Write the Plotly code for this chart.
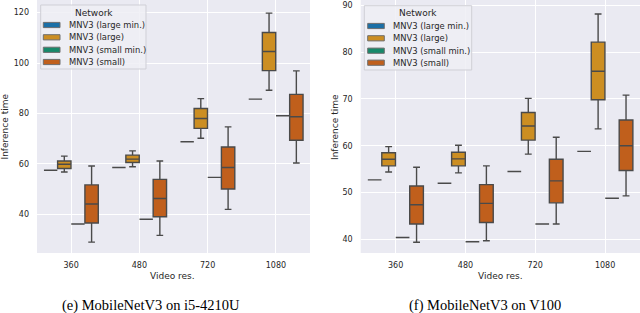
import plotly.graph_objects as go

categories = ["360", "480", "720", "1080"]
series_names = ["MNV3 (large min.)", "MNV3 (large)", "MNV3 (small min.)", "MNV3 (small)"]
colors = ["#1b6fa6", "#cc8e22", "#17896a", "#c05f1c"]

# i5-4210U : per category [lower whisker, q1, median, q3, upper whisker]
i5_large_min = [57.5, 58.6, 68.8, 85.7]
i5_large = [[56.8, 58.2, 59.9, 61.2, 63.1],
            [58.9, 60.6, 61.9, 63.5, 65.2],
            [70.2, 74.1, 78.0, 82.0, 85.9],
            [89.2, 97.0, 104.6, 112.1, 119.8]]
i5_small_min = [36.2, 38.1, 54.7, 79.1]
i5_small = [[29.0, 36.6, 44.1, 51.7, 59.2],
            [31.7, 39.1, 46.3, 53.9, 61.2],
            [42.0, 50.1, 58.6, 66.7, 74.7],
            [60.4, 69.4, 78.7, 87.6, 96.9]]

# V100
v100_large_min = [52.7, 52.0, 54.5, 58.8]
v100_large = [[54.4, 55.7, 57.1, 58.5, 59.8],
              [54.2, 55.7, 57.2, 58.6, 60.1],
              [58.2, 61.2, 64.2, 67.1, 70.1],
              [63.6, 69.8, 75.9, 82.1, 88.1]]
v100_small_min = [40.4, 39.5, 43.3, 48.8]
v100_small = [[39.4, 43.3, 47.4, 51.4, 55.4],
              [39.7, 43.6, 47.7, 51.7, 55.7],
              [43.3, 47.8, 52.5, 57.1, 61.8],
              [49.3, 54.7, 60.0, 65.5, 70.8]]

W, H = 640, 313
LINE = "#4a4a4a"
TXT = "#262626"
BG = "#eaeaf2"
FONT = "DejaVu Sans"

fig = go.Figure()


def stats_of(s):
    return dict(lowerfence=[r[0] for r in s], q1=[r[1] for r in s],
                median=[r[2] for r in s], q3=[r[3] for r in s],
                upperfence=[r[4] for r in s])


def flat(vals):
    return dict(lowerfence=vals, q1=vals, median=vals, q3=vals, upperfence=vals)


panels = [
    ("x", "y", [flat(i5_large_min), stats_of(i5_large), flat(i5_small_min), stats_of(i5_small)]),
    ("x2", "y2", [flat(v100_large_min), stats_of(v100_large), flat(v100_small_min), stats_of(v100_small)]),
]

for xa, ya, stats in panels:
    for name, col, st in zip(series_names, colors, stats):
        fig.add_trace(go.Box(
            x=categories, name=name, xaxis=xa, yaxis=ya,
            fillcolor=col, line=dict(color=LINE, width=1.4),
            whiskerwidth=0.5, boxpoints=False, hoverinfo="skip",
            offsetgroup=name, showlegend=False, **st))

ydom = [1 - 253 / H, 1]
axis_common = dict(showgrid=True, gridcolor="white", gridwidth=1, zeroline=False,
                   showline=False, ticks="", tickfont=dict(family=FONT, size=8, color=TXT))

fig.update_layout(
    width=W, height=H, margin=dict(l=0, r=0, t=0, b=0),
    paper_bgcolor="white", plot_bgcolor=BG,
    boxmode="group", boxgap=0.2, boxgroupgap=0.02,
    xaxis=dict(domain=[37 / W, 310 / W], type="category", range=[-0.5, 3.5],
               anchor="y", ticklabelstandoff=6, **axis_common),
    yaxis=dict(domain=ydom, range=[24.7, 125.0], dtick=20, tick0=0,
               anchor="x", ticklabelstandoff=7, **axis_common),
    xaxis2=dict(domain=[360.7 / W, 1.0], type="category", range=[-0.5, 3.5],
                anchor="y2", ticklabelstandoff=6, **axis_common),
    yaxis2=dict(domain=ydom, range=[37.1, 91.1], dtick=10, tick0=0,
                anchor="x2", ticklabelstandoff=7, **axis_common),
    showlegend=False,
)


def px(x):
    return x / W


def py(y):
    return 1 - y / H


shapes = []
ann = []

# legends (drawn as decoration, in pixel-derived paper coordinates)
for (bx0, by0, bx1, by1, tx, ty, patch_x0, patch_x1, lab_x, rows) in [
        (40.7, 5.0, 146.0, 69.0, 93.5, 12.7, 43.3, 60.0, 66.7, [25.0, 37.3, 49.8, 62.0]),
        (364.3, 5.7, 471.7, 70.0, 418.3, 13.3, 367.7, 384.3, 391.0, [26.0, 38.3, 50.7, 62.7])]:
    shapes.append(dict(type="rect", xref="paper", yref="paper", x0=px(bx0), x1=px(bx1),
                       y0=py(by1), y1=py(by0), fillcolor="rgba(238,238,244,0.85)",
                       line=dict(color="#cfcfd6", width=1), layer="above"))
    ann.append(dict(x=px(tx), y=py(ty), xref="paper", yref="paper", text="Network",
                    showarrow=False, xanchor="center", yanchor="middle",
                    font=dict(family=FONT, size=9, color=TXT)))
    for name, col, ry in zip(series_names, colors, rows):
        shapes.append(dict(type="rect", xref="paper", yref="paper", x0=px(patch_x0), x1=px(patch_x1),
                           y0=py(ry + 2.6), y1=py(ry - 2.6), fillcolor=col,
                           line=dict(color="#6e6e6e", width=1), layer="above"))
        ann.append(dict(x=px(lab_x), y=py(ry), xref="paper", yref="paper", text=name,
                        showarrow=False, xanchor="left", yanchor="middle",
                        font=dict(family=FONT, size=8.4, color=TXT)))

for xc, yc, txt, rot in [(172.7, 276, "Video res.", 0), (500, 276, "Video res.", 0),
                         (4.5, 127, "Inference time", -90), (335, 127, "Inference time", -90)]:
    ann.append(dict(x=px(xc), y=py(yc), xref="paper", yref="paper", text=txt,
                    showarrow=False, textangle=rot, xanchor="center", yanchor="middle",
                    font=dict(family=FONT, size=9, color=TXT)))
for xc, txt in [(151, "(e) MobileNetV3 on i5-4210U"), (484.5, "(f) MobileNetV3 on V100")]:
    ann.append(dict(x=px(xc), y=py(305), xref="paper", yref="paper", text=txt,
                    showarrow=False, xanchor="center", yanchor="middle",
                    font=dict(family="Liberation Serif", size=14.5, color="black")))
fig.update_layout(annotations=ann, shapes=shapes)

fig.write_html("out.html", config={"displayModeBar": False, "staticPlot": True},
               post_script="document.body.style.margin='0';document.body.style.overflow='hidden';")
